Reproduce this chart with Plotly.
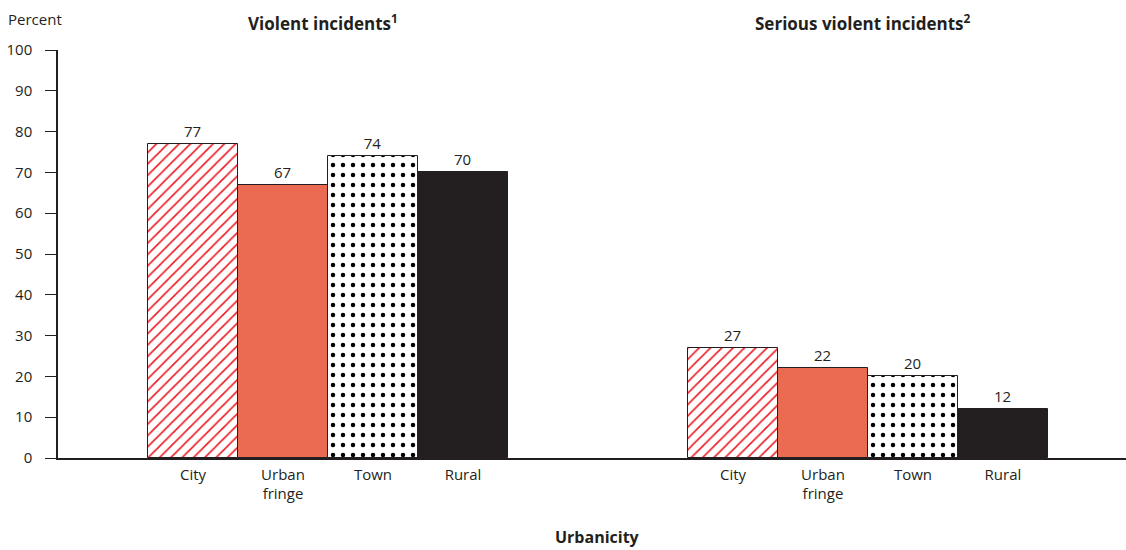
import plotly.graph_objects as go

# Percent of public schools reporting incidents, by urbanicity
urbanicity = ["City", "Urban fringe", "Town", "Rural"]
tick_labels = ["City", "Urban<br>fringe", "Town", "Rural"]
panels = ["Violent incidents<sup>1</sup>", "Serious violent incidents<sup>2</sup>"]
violent = [77, 67, 74, 70]
serious = [27, 22, 20, 12]

INK = "#231F20"
FS = 15       # regular text
FS_BOLD = 17  # headings
GROUP_STEP = 6  # distance between group starts, in bar widths

styles = [
    dict(color="white", pattern=dict(shape="/", fgcolor="#ED1C24", bgcolor="white",
                                     fgopacity=1, size=8, solidity=0.2)),
    dict(color="#EA6B51"),
    dict(color="white", pattern=dict(shape=".", fgcolor="#000000", bgcolor="white",
                                     fgopacity=1, size=10, solidity=0.16)),
    dict(color=INK),
]

fig = go.Figure()
tickvals, ticktext = [], []
for i, name in enumerate(urbanicity):
    xs = [g * GROUP_STEP + i for g in range(len(panels))]
    ys = [violent[i], serious[i]]
    fig.add_trace(go.Bar(
        x=xs, y=ys, name=name, width=1,
        marker=dict(**styles[i], line=dict(color=INK, width=1)),
        text=[str(v) for v in ys], textposition="outside",
        textfont=dict(size=FS, color=INK), cliponaxis=False,
        showlegend=False,
    ))
    tickvals += xs
    ticktext += [tick_labels[i]] * len(panels)

annotations = []
for g, title in enumerate(panels):
    annotations.append(dict(
        x=g * GROUP_STEP + 1.5 - 0.05, y=1.0686, xref="x", yref="paper",
        text="<b>" + title + "</b>", showarrow=False,
        xanchor="center", yanchor="middle", font=dict(size=FS_BOLD, color=INK)))
annotations.append(dict(x=-52 / 1068, y=1.075, xref="paper", yref="paper", text="Percent",
                        showarrow=False, xanchor="left", yanchor="middle",
                        font=dict(size=FS, color=INK)))
annotations.append(dict(x=4.5, y=-0.194, xref="x", yref="paper", text="<b>Urbanicity</b>",
                        showarrow=False, xanchor="center", yanchor="middle",
                        font=dict(size=16, color=INK)))

fig.update_layout(
    width=1126, height=550,
    margin=dict(l=58, r=0, t=50, b=92),
    paper_bgcolor="white", plot_bgcolor="white",
    font=dict(family="Open Sans", size=FS, color=INK),
    bargap=0,
    annotations=annotations,
    xaxis=dict(range=[-1.5, 10.367], tickvals=tickvals, ticktext=ticktext,
               showline=True, linecolor=INK, linewidth=1.5, showgrid=False,
               zeroline=False, ticks="", ticklabelstandoff=2,
               tickfont=dict(size=FS, color=INK)),
    yaxis=dict(range=[0, 100], dtick=10, showline=True, linecolor=INK, linewidth=1.5,
               showgrid=False, zeroline=False, ticks="outside", ticklen=11,
               tickcolor=INK, tickwidth=1.2, ticklabelstandoff=10,
               tickfont=dict(size=FS, color=INK)),
)

fig.write_html("out.html")
